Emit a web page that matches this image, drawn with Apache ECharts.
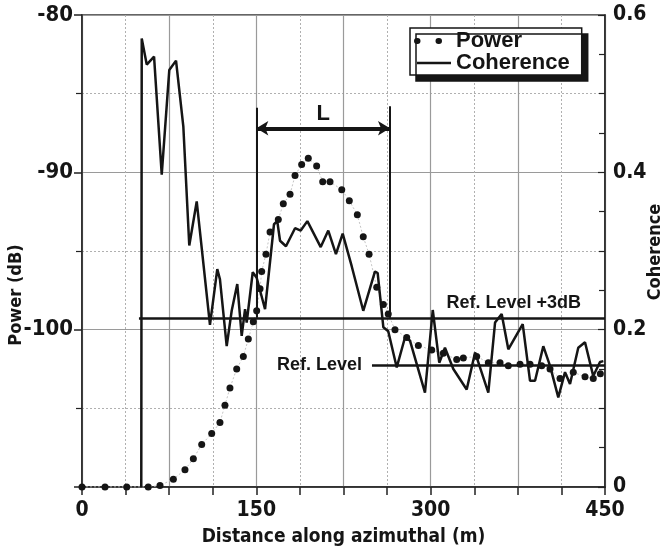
<!DOCTYPE html>
<html>
<head>
<meta charset="utf-8">
<script src="https://cdn.jsdelivr.net/npm/echarts@6/dist/echarts.min.js"></script>
<style>
  html, body { margin: 0; padding: 0; background: #fff; }
  #chart { width: 669px; height: 552px; }
</style>
</head>
<body>
<div id="chart"></div>
<script>
// Backscattered power profile (dB) along the azimuthal track
const powerDistance = [0, 19.8, 38.5, 57.0, 67.1, 78.6, 88.6, 95.8, 103.0, 111.6, 118.7, 123.0, 127.3,
  133.1, 138.8, 143.1, 147.4, 150.3, 153.2, 154.6, 158.3, 161.8, 168.9, 173.2, 179.0, 183.3, 189.0,
  194.7, 201.9, 207.1, 213.4, 223.5, 230.0, 236.9, 242.0, 247.0, 253.6, 259.3, 263.5, 269.3, 279.4,
  289.4, 300.9, 310.9, 322.4, 328.1, 339.6, 349.6, 359.7, 366.8, 376.9, 385.5, 395.5, 402.7, 411.3,
  422.7, 432.8, 439.9, 446.0];
const powerDb = [-110.0, -110.0, -110.0, -110.0, -109.9, -109.5, -108.9, -108.2, -107.3, -106.6, -105.9,
  -104.8, -103.7, -102.5, -101.7, -100.6, -99.5, -98.8, -97.4, -96.3, -95.2, -93.8, -93.0, -92.0, -91.4,
  -90.2, -89.5, -89.1, -89.6, -90.6, -90.6, -91.1, -91.8, -92.7, -94.1, -95.2, -97.3, -98.4, -99.0,
  -100.0, -100.5, -101.0, -101.3, -101.5, -101.9, -101.8, -101.7, -102.1, -102.1, -102.3, -102.2,
  -102.2, -102.3, -102.5, -103.1, -102.7, -103.0, -103.1, -102.8];

// Interferometric coherence along the same track
const coherenceDistance = [51.0, 51.4, 55.7, 62.0, 68.6, 75.1, 80.9, 87.2, 92.3, 98.7, 110.1, 116.4, 118.7,
  124.5, 128.8, 133.6, 137.4, 140.3, 141.7, 146.9, 150.3, 157.5, 165.2, 168.0, 170.4, 175.5, 183.3, 188.2,
  193.9, 205.4, 211.9, 218.5, 224.3, 232.0, 242.0, 252.1, 254.4, 259.3, 263.5, 270.8, 277.9, 282.2, 295.1,
  301.8, 307.4, 312.3, 319.5, 331.0, 338.2, 349.6, 355.4, 361.1, 366.8, 379.2, 385.5, 389.8, 396.9, 402.7,
  409.8, 415.6, 419.9, 427.0, 432.8, 439.9, 445.7, 448.6];
const coherence = [0, 0.570, 0.537, 0.547, 0.397, 0.530, 0.542, 0.458, 0.307, 0.363, 0.206, 0.277, 0.264,
  0.179, 0.224, 0.258, 0.192, 0.226, 0.209, 0.273, 0.266, 0.226, 0.334, 0.338, 0.313, 0.306, 0.329, 0.326,
  0.338, 0.305, 0.326, 0.296, 0.322, 0.281, 0.224, 0.274, 0.272, 0.203, 0.198, 0.152, 0.190, 0.186, 0.120,
  0.225, 0.158, 0.177, 0.150, 0.124, 0.171, 0.120, 0.209, 0.220, 0.175, 0.207, 0.135, 0.135, 0.179, 0.154,
  0.114, 0.146, 0.131, 0.177, 0.184, 0.141, 0.159, 0.160];

// Reference levels and the extent L (dB / metres)
const refLevel = -102.25;
const refLevelPlus3 = refLevel + 3;
const refPlus3Span = [49, 450];
const refSpan = [249.5, 450];
const extentL = [150, 265];
const extentTop = -85.9;
const arrowDb = -87.2;

// Tick labels
const xTickLabels = [0, 150, 300, 450];
const powerTickLabels = [-80, -90, -100];
const coherenceTickLabels = [0, 0.2, 0.4, 0.6];

const NARROW = '"Liberation Sans Narrow", "Arial Narrow", "DejaVu Sans Condensed", sans-serif';
const SANS = '"Liberation Sans", Arial, sans-serif';
const INK = '#151515';

const powerPoints = powerDistance.map((d, i) => [d, powerDb[i]]);
const coherencePoints = coherenceDistance.map((d, i) => [d, coherence[i]]);

const chart = echarts.init(document.getElementById('chart'), null, { renderer: 'canvas' });

const tickFont = size => ({ fontFamily: NARROW, fontWeight: 'bold', fontSize: size, color: INK });

chart.setOption({
  animation: false,
  backgroundColor: '#fff',
  grid: { left: 82, right: 64, top: 15, bottom: 64, show: true, borderColor: '#333', borderWidth: 1.5 },
  legend: {
    left: 410, top: 28, orient: 'vertical', itemGap: 0,
    itemWidth: 34, itemHeight: 20,
    padding: [2, 12, 1, 4],
    backgroundColor: '#fff', borderColor: INK, borderWidth: 1.5,
    shadowColor: INK, shadowBlur: 0, shadowOffsetX: 6, shadowOffsetY: 6,
    textStyle: { fontFamily: SANS, fontWeight: 'bold', fontSize: 22, color: INK, lineHeight: 20 },
    data: [
      { name: 'Power', itemStyle: { opacity: 0 },
        lineStyle: { type: [0.5, 21], cap: 'round', width: 6, color: INK, opacity: 1 } },
      { name: 'Coherence', itemStyle: { opacity: 0 },
        lineStyle: { width: 2.5, color: INK, type: 'solid' } }
    ]
  },
  xAxis: {
    type: 'value', min: 0, max: 450, interval: 75,
    name: 'Distance along azimuthal (m)', nameLocation: 'middle', nameGap: 41,
    nameTextStyle: { fontFamily: NARROW, fontWeight: 'bold', fontSize: 19, color: INK },
    axisLine: { onZero: false, lineStyle: { color: '#222', width: 1.5 } },
    axisTick: { length: 8, lineStyle: { color: '#222', width: 1.5 } },
    minorTick: { show: true, splitNumber: 2, length: 8, lineStyle: { color: '#222', width: 1.5 } },
    axisLabel: Object.assign({ margin: 13,
      formatter: v => xTickLabels.includes(v) ? String(v) : '' }, tickFont(21)),
    splitLine: { show: true, lineStyle: { color: '#9a9a9a', width: 1.2 } },
    minorSplitLine: { show: true, lineStyle: { color: '#b0b0b0', width: 1, type: [2, 2] } }
  },
  yAxis: [
    {
      type: 'value', min: -110, max: -80, interval: 10,
      axisLine: { show: true, onZero: false, lineStyle: { color: '#222', width: 1.5 } },
      axisTick: { show: true, length: 8, lineStyle: { color: '#222', width: 1.5 } },
      minorTick: { show: true, splitNumber: 2, length: 6, lineStyle: { color: '#222', width: 1.2 } },
      axisLabel: Object.assign({ margin: 9,
        formatter: v => powerTickLabels.includes(v) ? String(v) : '' }, tickFont(22)),
      splitLine: { show: true, lineStyle: { color: '#9a9a9a', width: 1.2 } },
      minorSplitLine: { show: true, lineStyle: { color: '#b0b0b0', width: 1, type: [2, 2] } }
    },
    {
      type: 'value', min: 0, max: 0.6, interval: 0.2, position: 'right',
      axisLine: { show: true, onZero: false, lineStyle: { color: '#222', width: 1.5 } },
      axisTick: { show: true, inside: true, length: 7, lineStyle: { color: '#222', width: 1.2 } },
      minorTick: { show: true, splitNumber: 4, length: 6, lineStyle: { color: '#222', width: 1.2 } },
      axisLabel: Object.assign({ margin: 8,
        formatter: v => {
          const hit = coherenceTickLabels.find(t => Math.abs(t - v) < 1e-9);
          return hit === undefined ? '' : (hit === 0 ? '0' : hit.toFixed(1));
        } }, tickFont(21)),
      splitLine: { show: false }
    }
  ],
  graphic: [
    { type: 'text', x: 16, y: 295, rotation: Math.PI / 2,
      style: { text: 'Power (dB)', font: 'bold 18px ' + NARROW, fill: INK,
               textAlign: 'center', textVerticalAlign: 'middle' } },
    { type: 'text', x: 655, y: 252, rotation: Math.PI / 2,
      style: { text: 'Coherence', font: 'bold 18px ' + NARROW, fill: INK,
               textAlign: 'center', textVerticalAlign: 'middle' } }
  ],
  series: [
    {
      name: 'Power', type: 'line', yAxisIndex: 0, data: powerPoints,
      showSymbol: true, symbol: 'circle', symbolSize: 7,
      itemStyle: { color: INK, borderWidth: 0 },
      lineStyle: { color: '#c4c4c4', width: 1, type: [2, 2] },
      z: 3,
      markLine: {
        silent: true, symbol: 'none', animation: false,
        lineStyle: { color: INK, width: 2.5, type: 'solid' },
        label: { show: false },
        data: [
          [
            { coord: [refPlus3Span[0], refLevelPlus3],
              label: { show: true, formatter: 'Ref. Level +3dB', position: 'insideEndTop',
                       distance: 6, padding: [0, 18, 0, 0],
                       fontFamily: SANS, fontWeight: 'bold', fontSize: 18, color: INK } },
            { coord: [refPlus3Span[1], refLevelPlus3] }
          ],
          [
            { coord: [refSpan[0], refLevel],
              label: { show: true, formatter: 'Ref. Level', position: 'start', distance: 10,
                       fontFamily: SANS, fontWeight: 'bold', fontSize: 18, color: INK } },
            { coord: [refSpan[1], refLevel] }
          ],
          [
            { coord: [extentL[0], extentTop], lineStyle: { width: 2 } },
            { coord: [extentL[0], refLevelPlus3] }
          ],
          [
            { coord: [extentL[1], extentTop + 0.1], lineStyle: { width: 2 } },
            { coord: [extentL[1], refLevelPlus3] }
          ],
          [
            { coord: [extentL[0], arrowDb], symbol: 'arrow', symbolSize: [11, 12],
              lineStyle: { width: 4 },
              label: { show: true, formatter: 'L', position: 'middle', distance: 3,
                       fontFamily: SANS, fontWeight: 'bold', fontSize: 22, color: INK } },
            { coord: [extentL[1], arrowDb], symbol: 'arrow', symbolSize: [11, 12] }
          ]
        ]
      }
    },
    {
      name: 'Coherence', type: 'line', yAxisIndex: 1, data: coherencePoints,
      showSymbol: false, symbol: 'none',
      lineStyle: { color: INK, width: 2.5 },
      itemStyle: { color: INK },
      z: 4
    }
  ]
});
</script>
</body>
</html>
